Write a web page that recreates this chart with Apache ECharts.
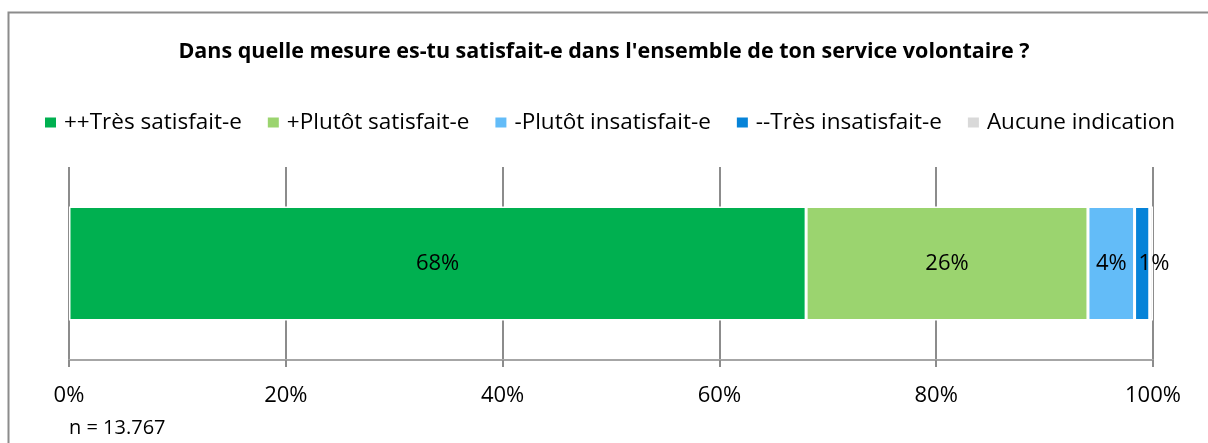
<!DOCTYPE html>
<html>
<head>
<meta charset="utf-8">
<script src="https://cdn.jsdelivr.net/npm/echarts@6/dist/echarts.min.js"></script>
<style>
  html, body { margin: 0; padding: 0; background: #fff; }
  #main { width: 1208px; height: 443px; }
</style>
</head>
<body>
<div id="main"></div>
<script>
var categories = ['Service volontaire'];
var seriesNames = ['++Très satisfait-e', '+Plutôt satisfait-e', '-Plutôt insatisfait-e', '--Très insatisfait-e', 'Aucune indication'];
var seriesValues = [[68.0], [26.0], [4.3], [1.4], [0.3]];
var seriesColors = ['#00b050', '#9bd46f', '#63bcf8', '#0683d8', '#d9d9d9'];
var tickLabels = ['0%', '20%', '40%', '60%', '80%', '100%'];

var chartDom = document.getElementById('main');
var myChart = echarts.init(chartDom);
var font = '"Open Sans", "Noto Sans", sans-serif';

var series = seriesNames.map(function (name, i) {
    return {
        name: name,
        type: 'bar',
        stack: 'total',
        barWidth: 114,
        data: seriesValues[i],
        itemStyle: { color: seriesColors[i], borderColor: '#fff', borderWidth: 1.5 },
        label: {
            show: i < 4,
            position: i === 3 ? 'insideLeft' : 'inside',
            distance: 4,
            color: '#000',
            fontFamily: font,
            fontSize: 22,
            formatter: function (p) { return Math.round(p.value) + '%'; }
        }
    };
});

var option = {
    animation: false,
    title: {
        text: "Dans quelle mesure es-tu satisfait-e dans l'ensemble de ton service volontaire ?",
        left: 'center',
        top: 36,
        textStyle: { fontFamily: font, fontSize: 21.5, fontWeight: 'bold', color: '#000' }
    },
    legend: {
        data: seriesNames,
        top: 106,
        left: 38,
        itemWidth: 13,
        itemHeight: 12,
        itemGap: 24,
        icon: 'rect',
        textStyle: { fontFamily: font, fontSize: 22.5, color: '#000', padding: [0, 0, 0, 2] }
    },
    grid: { left: 69, right: 55, top: 167, bottom: 83 },
    xAxis: {
        type: 'value',
        min: 0,
        max: 100,
        interval: 20,
        axisLine: { show: true, lineStyle: { color: '#a6a6a6', width: 2 } },
        axisTick: { show: true, length: 7, lineStyle: { color: '#8c8c8c', width: 2 } },
        splitLine: { show: true, lineStyle: { color: '#8c8c8c', width: 2 } },
        axisLabel: {
            margin: 25,
            color: '#000',
            fontFamily: font,
            fontSize: 22,
            formatter: function (v) { return tickLabels[v / 20]; }
        }
    },
    yAxis: {
        type: 'category',
        data: categories,
        show: false
    },
    series: series,
    graphic: [
        {
            type: 'rect',
            shape: { x: 8.5, y: 12.5, width: 1300, height: 500 },
            style: { fill: 'none', stroke: '#8c8c8c', lineWidth: 2 },
            silent: true
        },
        {
            type: 'text',
            left: 69,
            top: 418,
            style: { text: 'n = 13.767', fill: '#000', font: '20px ' + font }
        }
    ]
};

option && myChart.setOption(option);
</script>
</body>
</html>
